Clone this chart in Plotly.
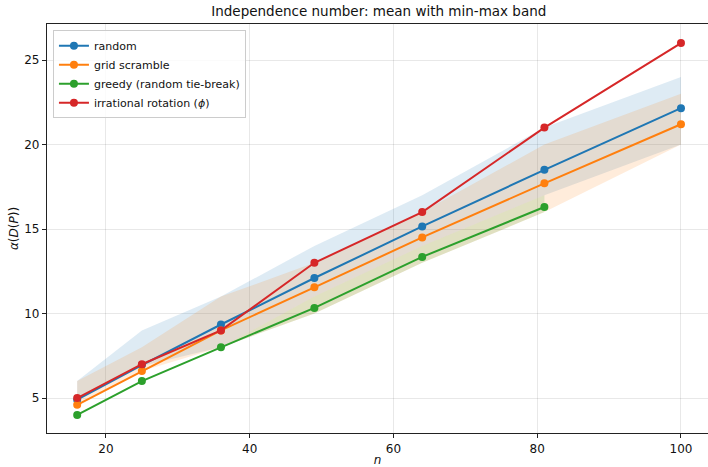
import plotly.graph_objects as go

n_vals = [16, 25, 36, 49, 64, 81, 100]
n_greedy = [16, 25, 36, 49, 64, 81]

random_mean = [4.9, 6.95, 9.35, 12.1, 15.15, 18.5, 22.15]
random_min = [4.9, 6.9, 8, 11, 14, 17, 20]
random_max = [6, 9, 11, 14, 17, 21, 24]

grid_mean = [4.6, 6.6, 9.0, 11.55, 14.5, 17.7, 21.2]
grid_min = [4.6, 6.6, 8, 10, 13, 16, 20]
grid_max = [6, 8, 11, 13, 16, 20, 23]

greedy_mean = [4.0, 6.0, 8.0, 10.33, 13.35, 16.3]
greedy_min = [4, 6, 8, 10, 13, 16]
greedy_max = [4, 6, 8, 11, 14, 17]

rot_vals = [5, 7, 9, 13, 16, 21, 26]

names = ["random", "grid scramble", "greedy (random tie-break)", "irrational rotation (<i>ϕ</i>)"]
colors = ["#1f77b4", "#ff7f0e", "#2ca02c", "#d62728"]
fills = ["rgba(31,119,180,0.15)", "rgba(255,127,14,0.15)", "rgba(44,160,44,0.15)"]

fig = go.Figure()

bands = [(n_vals, random_min, random_max), (n_vals, grid_min, grid_max), (n_greedy, greedy_min, greedy_max)]
for (xs, lo, hi), fc in zip(bands, fills):
    fig.add_trace(go.Scatter(
        x=list(xs) + list(xs)[::-1], y=list(hi) + list(lo)[::-1],
        fill="toself", fillcolor=fc, line=dict(width=0), mode="lines",
        showlegend=False, hoverinfo="skip"))

series = [(n_vals, random_mean), (n_vals, grid_mean), (n_greedy, greedy_mean), (n_vals, rot_vals)]
for (xs, ys), nm, c in zip(series, names, colors):
    fig.add_trace(go.Scatter(
        x=xs, y=ys, name=nm, mode="lines+markers",
        line=dict(color=c, width=2), marker=dict(color=c, size=8)))

axis_common = dict(
    showline=True, linecolor="#222", linewidth=1.2,
    ticks="outside", ticklen=4, tickcolor="#222",
    showgrid=True, gridcolor="rgba(0,0,0,0.09)", gridwidth=1,
    zeroline=False, tickfont=dict(size=12, color="#111"), automargin=False,
)

fig.update_xaxes(range=[11.8, 103.76], tickvals=[20, 40, 60, 80, 100], mirror=True,
                 title=dict(text="<i>n</i>", font=dict(size=12), standoff=6), **axis_common)
fig.update_yaxes(range=[2.93, 27.13], tickvals=[5, 10, 15, 20, 25], mirror=False,
                 title=dict(text="<i>α</i>(<i>D</i>(<i>P</i>))", font=dict(size=12), standoff=3), **axis_common)

fig.update_layout(
    width=708, height=467,
    margin=dict(l=47, r=0, t=24, b=34, autoexpand=False),
    paper_bgcolor="white", plot_bgcolor="white",
    font=dict(family="DejaVu Sans", color="#111"),
    title=dict(text="Independence number: mean with min-max band", x=0.535, xanchor="center",
               y=0.986, yanchor="top", font=dict(size=13.5)),
    legend=dict(x=0.009, y=0.985, xanchor="left", yanchor="top",
                bgcolor="rgba(255,255,255,0.8)", bordercolor="#ccc", borderwidth=1,
                font=dict(size=11), tracegroupgap=0, itemwidth=30),
    showlegend=True,
)

fig.write_html("out.html", config={"displayModeBar": False},
               post_script="document.body.style.margin='0px';")
